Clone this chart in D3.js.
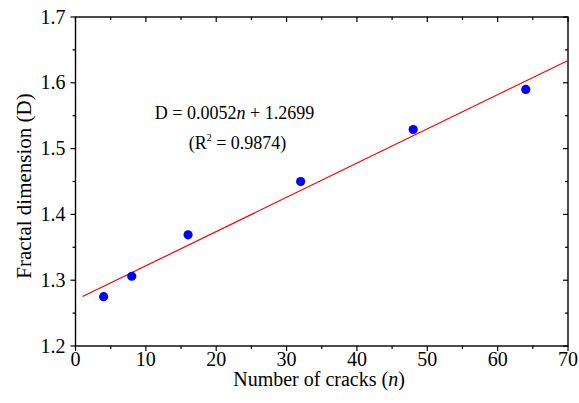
<!DOCTYPE html>
<html>
<head>
<meta charset="utf-8">
<script src="https://cdn.jsdelivr.net/npm/d3@7"></script>
<style>
  html, body { margin: 0; padding: 0; background: #fff; }
  svg { display: block; }
  text { font-family: "Liberation Serif", "Times New Roman", serif; fill: #000; }
</style>
</head>
<body>
<svg id="chart" width="579" height="403"></svg>
<script>
// Crack count vs fractal dimension
const cracks = [4, 8, 16, 32, 48, 64];
const fractalDim = [1.275, 1.306, 1.369, 1.450, 1.529, 1.590];

// Linear fit D = slope * n + intercept
const fitSlope = 0.0052;
const fitIntercept = 1.2699;
const fitRange = [1, 70];

const xTicks = [0, 10, 20, 30, 40, 50, 60, 70];
const yTicks = [1.2, 1.3, 1.4, 1.5, 1.6, 1.7];

const svg = d3.select("#chart");
const margin = { left: 75.5, right: 11, top: 17, bottom: 57 };
const W = 579, H = 403;

const x = d3.scaleLinear().domain([0, 70]).range([margin.left, W - margin.right]);
const y = d3.scaleLinear().domain([1.2, 1.7]).range([H - margin.bottom, margin.top]);

const x0 = x.range()[0], x1 = x.range()[1];
const y0 = y.range()[0], y1 = y.range()[1];

// Tick marks: outward on the main axes, inward on the mirrored ones
const xMinor = d3.range(5, 70, 10);
const yMinor = d3.range(1.25, 1.7, 0.1);
const tickG = svg.append("g").attr("stroke", "#000").attr("stroke-width", 1.2);

xTicks.forEach(v => {
  tickG.append("line").attr("x1", x(v)).attr("x2", x(v)).attr("y1", y0).attr("y2", y0 + 5);
  tickG.append("line").attr("x1", x(v)).attr("x2", x(v)).attr("y1", y1).attr("y2", y1 + 5);
});
xMinor.forEach(v => {
  tickG.append("line").attr("x1", x(v)).attr("x2", x(v)).attr("y1", y0).attr("y2", y0 + 3);
  tickG.append("line").attr("x1", x(v)).attr("x2", x(v)).attr("y1", y1).attr("y2", y1 + 3);
});
yTicks.forEach(v => {
  tickG.append("line").attr("x1", x0 - 5).attr("x2", x0).attr("y1", y(v)).attr("y2", y(v));
  tickG.append("line").attr("x1", x1 - 5).attr("x2", x1).attr("y1", y(v)).attr("y2", y(v));
});
yMinor.forEach(v => {
  tickG.append("line").attr("x1", x0 - 3).attr("x2", x0).attr("y1", y(v)).attr("y2", y(v));
  tickG.append("line").attr("x1", x1 - 3).attr("x2", x1).attr("y1", y(v)).attr("y2", y(v));
});

// Frame
svg.append("rect")
  .attr("x", x0).attr("y", y1)
  .attr("width", x1 - x0).attr("height", y0 - y1)
  .attr("fill", "none").attr("stroke", "#000").attr("stroke-width", 1.4);

// Tick labels
svg.append("g").selectAll("text").data(xTicks).join("text")
  .attr("x", d => x(d)).attr("y", y0 + 20)
  .attr("text-anchor", "middle")
  .attr("font-size", 20)
  .text(d => d);

svg.append("g").selectAll("text").data(yTicks).join("text")
  .attr("x", x0 - 10).attr("y", d => y(d) + 6.6)
  .attr("text-anchor", "end")
  .attr("font-size", 20)
  .text(d => d.toFixed(1));

// Axis titles
const xt = svg.append("text")
  .attr("x", 319).attr("y", 386)
  .attr("text-anchor", "middle")
  .attr("font-size", 20);
xt.append("tspan").text("Number of cracks (");
xt.append("tspan").attr("font-style", "italic").text("n");
xt.append("tspan").text(")");

svg.append("text")
  .attr("transform", `translate(31, 186) rotate(-90)`)
  .attr("text-anchor", "middle")
  .attr("font-size", 21)
  .text("Fractal dimension (D)");

// Fitted line
svg.append("line")
  .attr("x1", x(fitRange[0])).attr("y1", y(fitSlope * fitRange[0] + fitIntercept))
  .attr("x2", x(fitRange[1])).attr("y2", y(fitSlope * fitRange[1] + fitIntercept))
  .attr("stroke", "#ff0000").attr("stroke-width", 1.2);

// Data points
svg.append("g").selectAll("circle").data(cracks).join("circle")
  .attr("cx", (d) => x(d))
  .attr("cy", (d, i) => y(fractalDim[i]))
  .attr("r", 4.6)
  .attr("fill", "#0000ff");

// Equation annotation
const eq = svg.append("text")
  .attr("x", 234.5).attr("y", 119)
  .attr("text-anchor", "middle")
  .attr("font-size", 18);
eq.append("tspan").text("D = 0.0052");
eq.append("tspan").attr("font-style", "italic").text("n");
eq.append("tspan").text(" + 1.2699");

const r2 = svg.append("text")
  .attr("x", 237.5).attr("y", 149)
  .attr("text-anchor", "middle")
  .attr("font-size", 18);
r2.append("tspan").text("(R");
r2.append("tspan").attr("font-size", 10).attr("dy", -8).text("2");
r2.append("tspan").attr("dy", 8).text(" = 0.9874)");
</script>
</body>
</html>
